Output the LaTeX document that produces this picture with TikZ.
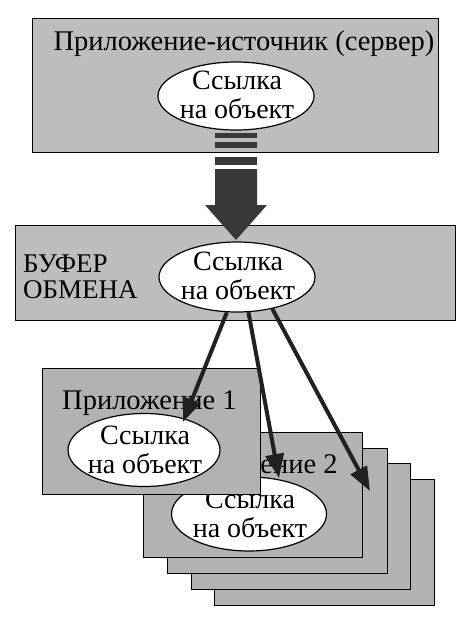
\documentclass[tikz,border=0pt]{standalone}
\usepackage{fontspec}
\setmainfont{Liberation Serif}
\usetikzlibrary{arrows.meta,shapes.geometric}
\definecolor{boxgray}{gray}{0.74}
\definecolor{stackgray}{gray}{0.70}
\definecolor{arrowgray}{gray}{0.22}
\definecolor{linkgray}{gray}{0.13}
\begin{document}
\begin{tikzpicture}[x=1pt,y=-1pt,
  box/.style={draw=black, line width=1.3pt, fill=boxgray, inner sep=0pt, anchor=north west},
  stackbox/.style={box, fill=stackgray},
  refell/.style={ellipse, draw=black, line width=1.2pt, fill=white, inner sep=0pt},
  reftext/.style={inner sep=0pt, align=center, font=\fontsize{28}{29}\selectfont},
  title/.style={inner sep=0pt, font=\fontsize{28.5}{30}\selectfont},
  link/.style={draw=linkgray, line width=4pt, -{Triangle[length=24pt,width=18pt]}},
  bigarrow/.style={fill=arrowgray, draw=none}
]
\path[use as bounding box, fill=white] (0,0) rectangle (473,619);

% source application
\node[box, minimum width=406pt, minimum height=134pt] (srv) at (32,18) {};
\node[title] (srvt) at (244,44) {Приложение-источник (сервер)};
\node[refell, minimum width=156pt, minimum height=68pt] (e0) at (236,96) {};
\node[reftext] (e0t) at (237,95) {Ссылка\\на объект};

% clipboard
\node[box, minimum width=440pt, minimum height=95pt] (buf) at (15,225) {};
\node[title, anchor=west, align=left, font=\fontsize{27}{26}\selectfont] (buft) at (23,277) {БУФЕР\\ОБМЕНА};
\node[refell, minimum width=156pt, minimum height=70pt] (e1) at (237,277) {};
\node[reftext] (e1t) at (238,276) {Ссылка\\на объект};

% striped block arrow
\fill[bigarrow] (215,133) rectangle (257,138);
\fill[bigarrow] (215,142) rectangle (257,148);
\fill[bigarrow] (215,157) rectangle (257,165);
\fill[bigarrow] (215,169) -- (257,169) -- (257,205) -- (267,205) -- (236,240) -- (205,205) -- (215,205) -- cycle;

% stack of applications
\node[stackbox, minimum width=220pt, minimum height=126pt] (appD) at (214,479) {};
\node[stackbox, minimum width=219pt, minimum height=126pt] (appC) at (191,463) {};
\node[stackbox, minimum width=220pt, minimum height=125pt] (appB) at (167,448) {};
\node[stackbox, minimum width=219pt, minimum height=125pt] (appA) at (143,432) {};
\node[title, anchor=west] (appAt) at (163,467) {Приложение 2};
\node[refell, minimum width=155pt, minimum height=74pt] (e3) at (249,514) {};
\node[reftext] (e3t) at (250,514) {Ссылка\\на объект};

% application 1
\node[stackbox, minimum width=218pt, minimum height=126pt] (app1) at (42,368) {};
\node[title, anchor=west] (app1t) at (62,403) {Приложение 1};
\node[refell, minimum width=152pt, minimum height=73pt] (e2) at (144,450) {};
\node[reftext] (e2t) at (145,450) {Ссылка\\на объект};

% links
\coordinate (t1) at (183,422);
\coordinate (t2) at (279,478);
\coordinate (t3) at (370,491);
\draw[link] (e1.254) -- (t1);
\draw[link] (e1.288) -- (t2);
\draw[link] (e1.318) -- (t3);
\end{tikzpicture}
\end{document}
